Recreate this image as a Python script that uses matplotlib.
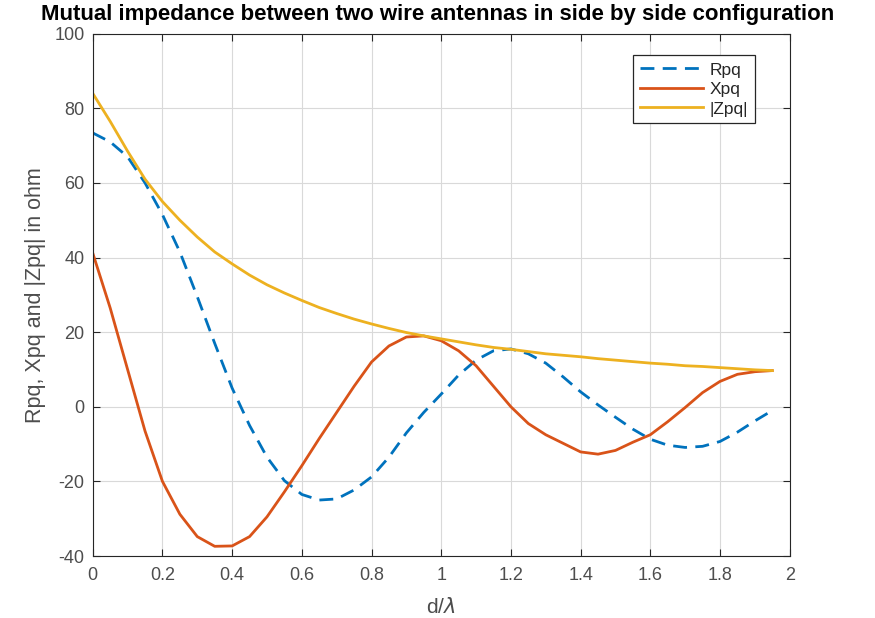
import matplotlib
matplotlib.use("Agg")
import matplotlib.pyplot as plt
from matplotlib.ticker import FuncFormatter

plt.rcParams['font.family'] = ['Liberation Sans', 'DejaVu Sans']
plt.rcParams['axes.unicode_minus'] = False

# d / lambda, sampled every 0.05
d = [0.00, 0.05, 0.10, 0.15, 0.20, 0.25, 0.30, 0.35, 0.40, 0.45,
     0.50, 0.55, 0.60, 0.65, 0.70, 0.75, 0.80, 0.85, 0.90, 0.95,
     1.00, 1.05, 1.10, 1.15, 1.20, 1.25, 1.30, 1.35, 1.40, 1.45,
     1.50, 1.55, 1.60, 1.65, 1.70, 1.75, 1.80, 1.85, 1.90, 1.95]

rpq = [73.4, 71.0, 67.0, 60.0, 51.5, 41.5, 29.5, 17.0, 5.0, -5.0,
       -13.5, -19.8, -23.5, -25.0, -24.7, -22.3, -18.8, -13.5, -7.0, -1.5,
       3.4, 8.5, 12.5, 15.0, 15.5, 14.2, 11.7, 8.0, 4.0, 0.5,
       -2.8, -6.0, -8.7, -10.3, -10.9, -10.6, -9.3, -6.8, -3.8, -1.0]

xpq = [41.2, 26.5, 10.0, -6.5, -20.0, -28.8, -34.8, -37.4, -37.3, -34.8,
       -29.5, -22.8, -15.8, -8.5, -1.5, 5.5, 12.0, 16.3, 18.7, 19.0,
       17.7, 15.0, 11.0, 5.5, 0.0, -4.5, -7.5, -9.8, -12.1, -12.7,
       -11.7, -9.5, -7.5, -4.0, -0.2, 3.8, 6.8, 8.7, 9.4, 9.7]

zpq = [84.0, 76.5, 68.5, 61.0, 55.0, 50.0, 45.5, 41.5, 38.3, 35.3,
       32.7, 30.5, 28.5, 26.6, 25.0, 23.5, 22.2, 21.0, 19.9, 19.0,
       18.2, 17.4, 16.6, 15.9, 15.4, 14.8, 14.2, 13.8, 13.4, 12.9,
       12.5, 12.1, 11.7, 11.4, 11.0, 10.8, 10.5, 10.2, 9.9, 9.7]

x_ticks = [0, 0.2, 0.4, 0.6, 0.8, 1.0, 1.2, 1.4, 1.6, 1.8, 2.0]
y_ticks = [-40, -20, 0, 20, 40, 60, 80, 100]

dark = (0.15, 0.15, 0.15)

fig = plt.figure(figsize=(8.75, 6.18), dpi=100)
ax = fig.add_axes([0.106, 0.1003, 0.7965, 0.8452])

ax.plot(d, rpq, '--', color=(0, 0.447, 0.741), lw=2.0, dashes=(5, 3), label='Rpq')
ax.plot(d, xpq, color=(0.85, 0.325, 0.098), lw=2.0, label='Xpq')
ax.plot(d, zpq, color=(0.929, 0.694, 0.125), lw=2.0, label='|Zpq|')

ax.set_xlim(0, 2)
ax.set_ylim(-40, 100)
ax.set_xticks(x_ticks)
ax.set_yticks(y_ticks)
ax.xaxis.set_major_formatter(FuncFormatter(lambda v, p: '%g' % v))
ax.grid(True, color=(0.85, 0.85, 0.85), lw=0.8)
ax.tick_params(direction='in', top=True, right=True, labelsize=13,
               colors=dark, labelcolor=(0.3, 0.3, 0.3), length=5)
ax.tick_params(axis='x', pad=8)
ax.tick_params(axis='y', pad=6)
for s in ax.spines.values():
    s.set_color(dark)

fig.text(0.5, 0.977, 'Mutual impedance between two wire antennas in side by side configuration',
         ha='center', va='center', fontsize=16, fontweight='bold')
ax.set_xlabel('d/$\\lambda$', fontsize=15, color=(0.3, 0.3, 0.3), labelpad=9)
ax.set_ylabel('Rpq, Xpq and |Zpq| in ohm', fontsize=15.5, color=(0.3, 0.3, 0.3), labelpad=6)

leg = ax.legend(loc='upper right', bbox_to_anchor=(0.963, 0.975), fontsize=12.5,
                fancybox=False, edgecolor=dark, framealpha=1,
                handlelength=3.6, handletextpad=0.4, borderpad=0.4, labelspacing=0.25)
leg.get_frame().set_linewidth(0.9)
for t in leg.get_texts():
    t.set_color(dark)

fig.savefig('out.png', dpi=100)
